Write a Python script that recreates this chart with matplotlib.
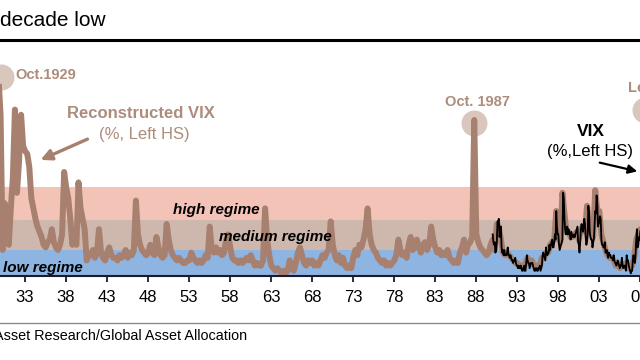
"""
Reconstructed VIX since 1929 with the three volatility regimes.
"""
import matplotlib
matplotlib.use("Agg")
import matplotlib.pyplot as plt
from matplotlib.lines import Line2D
import numpy as np

# Reconstructed VIX (%), one value per quarter, first value = Q4 1929
recon_start = 1929.79
recon_vix = [
    84,
    70, 18, 36, 30,  20, 34, 46, 72,  40, 52, 70, 58,  56, 55, 50, 38,  34, 30, 27, 25,
    23, 20, 19, 21,  22, 26, 21, 19,  18, 20, 24, 48,  42, 38, 30, 20,  22, 20, 44, 34,
    30, 26, 14, 16,  16, 18, 15, 17,  26, 17, 15, 14,  17, 19, 16, 15,  15, 14, 16, 15,
    16, 18, 15, 17,  16, 18, 37, 24,  20, 18, 17, 16,  17, 20, 17, 16,  23, 19, 16, 15,
    16, 28, 22, 18,  16, 15, 14, 15,  14, 13, 13, 14,  14, 17, 15, 14,  13, 14, 13, 14,
    16, 15, 27, 18,  17, 19, 17, 18,  16, 17, 22, 24,  19, 15, 14, 14,  13, 14, 13, 14,
    15, 14, 16, 14,  12, 13, 12, 12,  14, 34, 22, 16,  12, 11, 10, 11,  10, 9, 10, 9,
    10, 14, 11, 10,  13, 17, 19, 16,  13, 12, 14, 13,  14, 12, 13, 12,  14, 16, 15, 17,
    18, 29, 20, 16,  14, 16, 13, 15,  12, 11, 12, 11,  15, 18, 16, 20,  19, 22, 26, 34,
    24, 20, 18, 17,  15, 14, 13, 14,  12, 13, 12, 13,  14, 16, 22, 18,  16, 17, 15, 20,
    23, 18, 19, 22,  19, 17, 20, 21,  18, 20, 27, 22,  19, 17, 18, 16,  17, 16, 18, 15,
    14, 13, 14, 13,  17, 19, 22, 17,  20, 21, 23, 68,  24, 21, 19, 18,  17, 16, 17, 20,
    22, 18, 28, 27,  22, 17, 16, 17,  16, 15, 14, 13,  13, 12, 12, 11,  13, 15, 13, 14,
    12, 12, 12, 12,  15, 15, 17, 17,  20, 21, 22, 33,  23, 21, 40, 32,  25, 25, 23, 23,
    24, 25, 22, 26,  27, 25, 35, 28,  24, 23, 41, 33,  33, 24, 21, 18,  16, 15, 15, 14,
    12, 13, 11, 12,  12, 13, 11, 11,  12, 15, 22, 24,  26, 23, 25, 62,
]

# VIX (%), monthly, from January 1990
vix_start = 1990.04
vix = [
    24, 21, 20, 21, 17, 18, 21, 29, 29, 30, 23, 25,
    27, 19, 17, 18, 16, 18, 16, 16, 16, 17, 19, 16,
    16, 15, 16, 15, 14, 14, 13, 14, 14, 15, 13, 12,
    12, 11, 12, 11, 11, 12, 11, 10, 10, 11, 12, 10,
    10, 13, 16, 14, 13, 13, 11, 12, 13, 13, 13, 12,
    11, 10, 10, 11, 11, 10, 10, 11, 11, 12, 10, 11,
    12, 16, 17, 16, 15, 14, 19, 17, 16, 17, 17, 20,
    18, 20, 21, 22, 19, 19, 21, 24, 22, 33, 27, 24,
    24, 20, 18, 19, 20, 21, 22, 40, 38, 30, 26, 24,
    25, 27, 24, 26, 25, 24, 22, 25, 24, 23, 23, 24,
    23, 24, 25, 26, 27, 21, 20, 17, 21, 26, 28, 27,
    25, 27, 30, 28, 23, 20, 21, 24, 35, 32, 25, 23,
    22, 22, 19, 21, 22, 27, 33, 32, 39, 36, 27, 28,
    29, 31, 30, 22, 20, 20, 19, 19, 21, 17, 17, 18,
    16, 15, 17, 16, 16, 15, 15, 15, 14, 16, 14, 13,
    13, 12, 13, 14, 13, 12, 11, 12, 12, 15, 12, 11,
    12, 12, 11, 10, 16, 14, 14, 12, 11, 10, 9, 10,
    10, 14, 16, 14, 13, 16, 22, 26, 19, 20, 23, 22,
    25, 26, 25, 20, 18, 24, 23, 20, 40, 60, 55, 40,
]

# regime thresholds (%)
regime_edges = [8, 18, 29.5, 42.2]
regime_colors = ["#8EB4E2", "#CEB8AD", "#F3C3B7"]

# crisis markers
event_labels = ["Oct.1929", "Oct. 1987", "Lehman"]
event_years = [1930.09, 1987.79, 2008.55]
event_levels = [84.5, 67.0, 72.0]

tick_years = list(range(1933, 2009, 5))

BROWN = "#A8806F"
BROWN_TXT = "#AD8C7C"
CIRCLE = "#D9C6BD"

W, H = 640, 360


def fx(x):
    return x / W


def fy(y):
    return 1 - y / H


def plot_vix_regimes(save_path="out.png"):
    plt.rcParams["font.family"] = ["Liberation Sans", "DejaVu Sans"]
    fig = plt.figure(figsize=(6.4, 3.6), dpi=100)
    ax = fig.add_axes([0, fy(276), 1, (276 - 45) / H])
    ax.set_xlim(1929.97, 1929.97 + W / 8.21)
    ax.set_ylim(8, 8 + 231 / 2.6)

    for lo, hi, col in zip(regime_edges[:-1], regime_edges[1:], regime_colors):
        ax.axhspan(lo, hi, color=col, lw=0, zorder=0)

    ax.scatter(event_years, event_levels, s=350, color=CIRCLE, lw=0, zorder=1)

    recon_t = recon_start + 0.25 * np.arange(len(recon_vix))
    ax.plot(recon_t, recon_vix, color=BROWN, lw=4.3, zorder=2)
    vix_t = vix_start + np.arange(len(vix)) / 12
    ax.plot(vix_t, vix, color="black", lw=1.3, zorder=3)

    for side in ["top", "left", "right"]:
        ax.spines[side].set_visible(False)
    ax.spines["bottom"].set_color("#1b1b2b")
    ax.spines["bottom"].set_linewidth(1.5)
    ax.spines["bottom"].set_zorder(4)
    ax.set_yticks([])
    ax.set_xticks(tick_years)
    ax.set_xticklabels([f"{y % 100:02d}" for y in tick_years])
    ax.tick_params(axis="x", direction="out", length=4, width=1.3, color="#1b1b2b",
                   labelsize=12, pad=6)

    # title (cropped) and rules
    fig.text(fx(0), fy(20), "decade low", fontsize=15, ha="left", va="center")
    fig.add_artist(Line2D([0, 1], [fy(39.7)] * 2, color="black", lw=2.2,
                          transform=fig.transFigure))
    fig.add_artist(Line2D([0, 1], [fy(323)] * 2, color="#8c8c8c", lw=1,
                          transform=fig.transFigure))
    fig.text(fx(-6.5), fy(336), "Asset Research/Global Asset Allocation",
             fontsize=10.4, ha="left", va="center")

    # annotations
    fig.text(fx(15), fy(75), event_labels[0], fontsize=10.5, fontweight="bold",
             color=BROWN_TXT, ha="left", va="center")
    fig.text(fx(477), fy(102), event_labels[1], fontsize=10.5, fontweight="bold",
             color=BROWN_TXT, ha="center", va="center")
    fig.text(fx(628), fy(88), event_labels[2], fontsize=10.5, fontweight="bold",
             color=BROWN_TXT, ha="left", va="center")

    fig.text(fx(141), fy(113), "Reconstructed VIX", fontsize=12, fontweight="bold",
             color=BROWN_TXT, ha="center", va="center")
    fig.text(fx(144), fy(134), "(%, Left HS)", fontsize=12,
             color=BROWN_TXT, ha="center", va="center")
    ax.annotate("", xy=(38, H - 161), xytext=(90, H - 138), xycoords="figure pixels",
                arrowprops=dict(arrowstyle="-|>", color=BROWN, lw=2.4, mutation_scale=16))

    fig.text(fx(591), fy(132), "VIX", fontsize=12.5, fontweight="bold",
             color="black", ha="center", va="center")
    fig.text(fx(590), fy(151), "(%,Left HS)", fontsize=12,
             color="black", ha="center", va="center")
    ax.annotate("", xy=(640, H - 172), xytext=(597, H - 162), xycoords="figure pixels",
                arrowprops=dict(arrowstyle="-|>", color="black", lw=1.6, mutation_scale=13))

    style = dict(fontsize=11, fontweight="bold", fontstyle="italic", va="center")
    fig.text(fx(216), fy(210), "high regime", ha="center", **style)
    fig.text(fx(275), fy(237), "medium regime", ha="center", **style)
    fig.text(fx(3), fy(268), "low regime", ha="left", **style)

    if save_path:
        fig.savefig(save_path, dpi=100)
    return fig


if __name__ == "__main__":
    plot_vix_regimes("out.png")
